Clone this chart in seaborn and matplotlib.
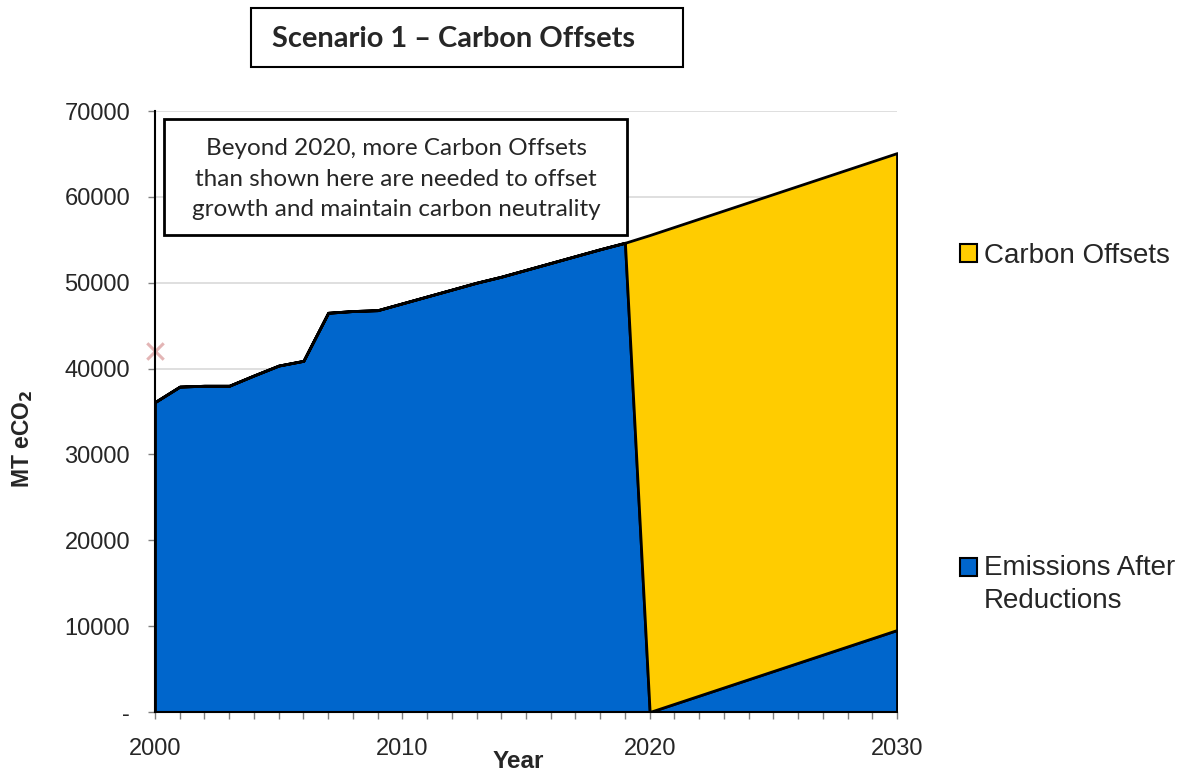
import matplotlib
matplotlib.use("Agg")
import matplotlib.pyplot as plt
from matplotlib.patches import Patch, Rectangle
from matplotlib.legend_handler import HandlerPatch
from matplotlib.ticker import MultipleLocator, FixedLocator
import seaborn as sns
import pandas as pd

years = list(range(2000, 2031))
emissions = [36100, 37900, 38000, 38000, 39200, 40350, 40900, 46500, 46700, 46800,
             47600, 48400, 49200, 50000, 50700, 51500, 52300, 53100, 53900, 54650,
             0, 955, 1910, 2865, 3820, 4775, 5730, 6685, 7640, 8595, 9550]
offsets = [0] * 20 + [55550] * 11
marker_year = [2000]
marker_value = [42000]
series_names = ["Emissions After\nReductions", "Carbon Offsets"]
y_ticks = [0, 10000, 20000, 30000, 40000, 50000, 60000, 70000]
y_tick_labels = ["-", "10000", "20000", "30000", "40000", "50000", "60000", "70000"]
x_ticks = [2000, 2010, 2020, 2030]

BLUE = "#0066CC"
YELLOW = "#FFCC00"

sns.set_theme(style="white")
plt.rcParams["font.family"] = ["Liberation Sans", "DejaVu Sans"]

W, H = 1182, 772
fig = plt.figure(figsize=(W / 100, H / 100), dpi=100)
ax = fig.add_axes([155 / W, 1 - 712 / H, 742 / W, 601 / H])

df = pd.DataFrame({"year": years, "emissions": emissions, "offsets": offsets})
for yv in y_ticks[1:]:
    ax.axhline(yv, color="#d9d9d9", lw=1.2, zorder=0)

ax.stackplot(df["year"], df["emissions"], df["offsets"], colors=[BLUE, YELLOW],
             edgecolor="black", linewidth=2, zorder=2)

sns.scatterplot(x=marker_year, y=marker_value, marker="x", s=140, color="#e3b5b5",
                linewidth=2.2, ax=ax, zorder=5, clip_on=False, legend=False)

ax.set_xlim(2000, 2030)
ax.set_ylim(0, 70000)
ax.xaxis.set_major_locator(FixedLocator(x_ticks))
ax.xaxis.set_minor_locator(MultipleLocator(1))
ax.set_yticks(y_ticks)
ax.set_yticklabels(y_tick_labels)
ax.tick_params(axis="x", which="major", direction="out", length=5, width=1, color="#808080",
               labelsize=17, pad=14, bottom=True)
ax.tick_params(axis="x", which="minor", direction="out", length=5, width=1, color="#808080",
               bottom=True)
ax.tick_params(axis="y", which="major", direction="out", length=5, width=1, color="#808080",
               labelsize=17, pad=13, left=True)
for s in ["top", "right"]:
    ax.spines[s].set_visible(False)
for s in ["left", "bottom"]:
    ax.spines[s].set_color("black")
    ax.spines[s].set_linewidth(1.5)
    ax.spines[s].set_zorder(6)

ax.set_xlabel("Year", fontsize=17.5, fontweight="bold", va="center")
ax.xaxis.set_label_coords(0.49, -(761 - 712) / 601)
ax.set_ylabel(r"MT eCO$_\mathbf{2}$", fontsize=16.5, fontweight="bold", va="center")
ax.yaxis.set_label_coords((23 - 155) / 742, (712 - 439) / 601)

# annotation box
fig.patches.append(Rectangle((164 / W, 1 - 235 / H), 463 / W, 116 / H,
                             transform=fig.transFigure, facecolor="white",
                             edgecolor="black", lw=2, zorder=10))
fig.text(396 / W, 1 - 179 / H,
         "Beyond 2020, more Carbon Offsets\nthan shown here are needed to offset\ngrowth and maintain carbon neutrality",
         ha="center", va="center", fontsize=17.5, family="Lato", linespacing=1.58, zorder=11)

# title box
fig.patches.append(Rectangle((251 / W, 1 - 67 / H), 432 / W, 59 / H,
                             transform=fig.transFigure, facecolor="white",
                             edgecolor="black", lw=1.5))
fig.text(272 / W, 1 - 39 / H, "Scenario 1 \u2013 Carbon Offsets", ha="left", va="center",
         fontsize=20.9, fontweight="bold", family="Lato")


class TopHandler(HandlerPatch):
    def create_artists(self, legend, orig_handle, xdescent, ydescent, width, height,
                       fontsize, trans):
        return super().create_artists(legend, orig_handle, xdescent,
                                      ydescent - 0.62 * fontsize, width, height,
                                      fontsize, trans)


h_off = Patch(facecolor=YELLOW, edgecolor="black", lw=1.5)
h_em = Patch(facecolor=BLUE, edgecolor="black", lw=1.5)
leg = fig.legend([h_off, h_em], [series_names[1], series_names[0]], loc="upper left",
                 bbox_to_anchor=(960 / W, 1 - 243 / H), frameon=False, fontsize=20,
                 handlelength=0.6, handleheight=0.6, handletextpad=0.25, labelspacing=10.3,
                 borderpad=0, borderaxespad=0, handler_map={h_em: TopHandler()})
for t in leg.get_texts():
    t.set_linespacing(1.32)

fig.savefig("out.png", dpi=100)
